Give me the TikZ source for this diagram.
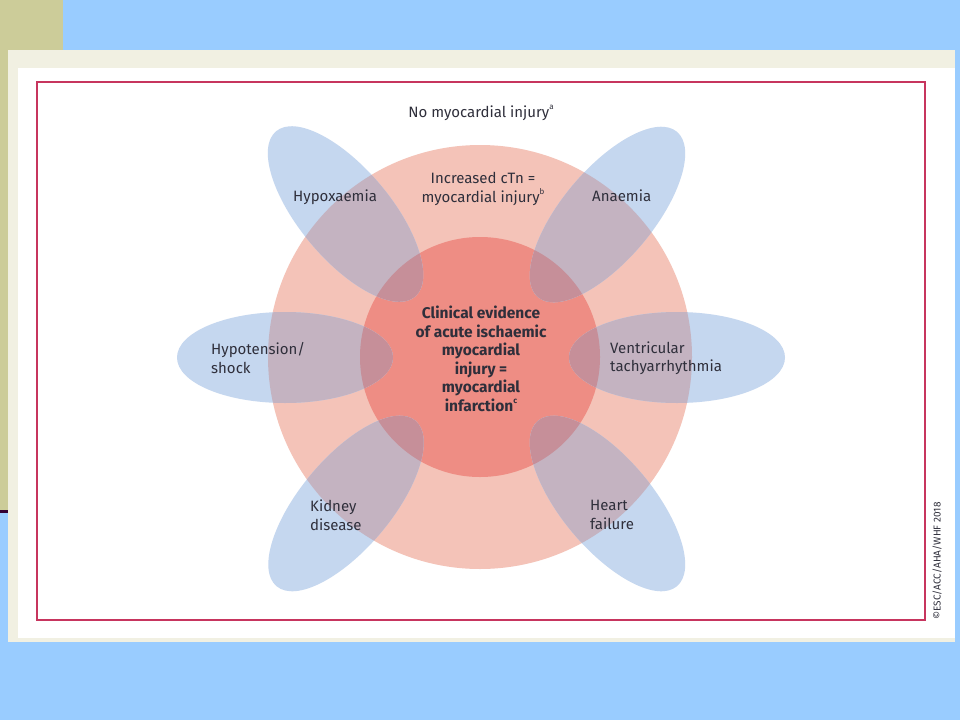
\documentclass[tikz,border=0pt]{standalone}
\usepackage{fontspec}
\setmainfont{Fira Sans}
\definecolor{bgblue}{HTML}{99CCFF}
\definecolor{olivebar}{HTML}{CCCC99}
\definecolor{darkline}{HTML}{330033}
\definecolor{cream}{HTML}{F1F0E2}
\definecolor{framec}{HTML}{C7355E}
\definecolor{outerc}{HTML}{F4C3B8}
\definecolor{innerc}{HTML}{EE8D84}
\definecolor{ellc}{HTML}{C5D7EF}
\definecolor{ovone}{HTML}{C4B3C1}
\definecolor{ovtwo}{HTML}{C68F99}
\definecolor{txt}{HTML}{2F2F3B}
\tikzset{
  lbl/.style={text=txt, font=\fontsize{15}{18.5}\selectfont, align=left, inner sep=0pt, anchor=west},
  ctr/.style={text=txt, font=\fontsize{15.5}{18.5}\selectfont\bfseries, align=center, inner sep=0pt},
}
\newcommand{\supr}[1]{\raisebox{0.5em}{\fontsize{8}{8}\selectfont #1}}
\newcommand{\petal}[3]{%
  \fill[ellc, rotate around={#3:(#1,#2)}] (#1,#2) ellipse [x radius=108, y radius=45.5];
  \begin{scope}
    \clip[rotate around={#3:(#1,#2)}] (#1,#2) ellipse [x radius=108, y radius=45.5];
    \fill[ovone] (cc) circle [radius=212];
    \fill[ovtwo] (cc) circle [radius=120];
  \end{scope}}
\begin{document}
\begin{tikzpicture}[x=1pt,y=-1pt]
\useasboundingbox (0,0) rectangle (960,720);
\fill[bgblue] (0,0) rectangle (960,720);
\fill[olivebar] (0,0) rectangle (63,510);
\fill[darkline] (0,510) rectangle (8,513);
\fill[cream] (8,50) rectangle (955,642);
\fill[white] (18,68) rectangle (955,638);
\draw[framec, line width=2pt] (37,82) rectangle (925,620);
\coordinate (cc) at (480,357);
\fill[outerc] (cc) circle [radius=212];
\fill[innerc] (cc) circle [radius=120];
\petal{345.5}{214}{-50}
\petal{607.5}{214.5}{50}
\petal{346}{503.5}{50}
\petal{607.5}{503.5}{-50}
\petal{285}{357.5}{0}
\petal{677}{357.5}{0}
\node[text=txt, font=\fontsize{15}{18.5}\selectfont, inner sep=0pt] (noinj) at (481,113) {No myocardial injury\supr{a}};
\node[ctr, font=\fontsize{15}{18.5}\selectfont\mdseries] (incr) at (483,189) {Increased cTn =\\myocardial injury\supr{b}};
\node[ctr] (clin) at (481,359) {Clinical evidence\\of acute ischaemic\\myocardial\\injury =\\myocardial\\infarction\supr{c}};
\node[lbl] (hypox) at (293,197) {Hypoxaemia};
\node[lbl] (anaem) at (592,196) {Anaemia};
\node[lbl] (hypot) at (211,358) {Hypotension/\\shock};
\node[lbl] (vent) at (610,358) {Ventricular\\tachyarrhythmia};
\node[lbl] (kid) at (310,515) {Kidney\\disease};
\node[lbl] (heart) at (590,515) {Heart\\failure};
\node[text=txt, rotate=90, font=\fontsize{10}{11}\selectfont, inner sep=0pt] (copy) at (937,561) {©ESC/ACC/AHA/WHF 2018};
\end{tikzpicture}
\end{document}
